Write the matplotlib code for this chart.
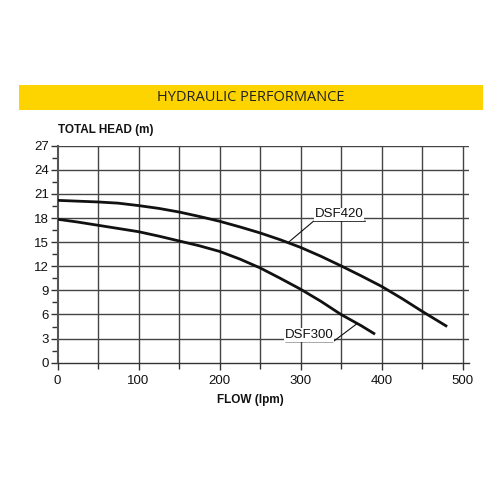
import matplotlib
matplotlib.use("Agg")
import matplotlib.pyplot as plt
import numpy as np
from matplotlib.patches import Rectangle

# Data
flow_420 = [0, 25, 50, 75, 100, 125, 150, 175, 200, 225, 250, 275, 300, 325, 350, 375, 400, 425, 450, 481]
head_420 = [20.2, 20.1, 20.0, 19.85, 19.55, 19.2, 18.75, 18.2, 17.6, 16.9, 16.15, 15.3, 14.35, 13.25,
            12.05, 10.8, 9.5, 8.0, 6.4, 4.5]
flow_300 = [0, 25, 50, 75, 100, 125, 150, 175, 200, 225, 250, 275, 300, 325, 350, 375, 392]
head_300 = [17.85, 17.5, 17.1, 16.7, 16.3, 15.75, 15.15, 14.55, 13.85, 12.9, 11.8, 10.5, 9.15, 7.65,
            6.0, 4.6, 3.55]

x_ticks = [0, 100, 200, 300, 400, 500]
y_ticks = [0, 3, 6, 9, 12, 15, 18, 21, 24, 27]

title = "HYDRAULIC PERFORMANCE"
y_label = "TOTAL HEAD (m)"
x_label = "FLOW (lpm)"

fig = plt.figure(figsize=(5, 5), dpi=100)
fig.patch.set_facecolor("white")

# Yellow banner
fig.patches.append(Rectangle((0.038, 0.780), 0.928, 0.050, transform=fig.transFigure,
                             facecolor="#FDD300", edgecolor="none", zorder=0))
fig.text(0.502, 0.805, title, ha="center", va="center", fontsize=10.5,
         family="Open Sans", color="#222222")

ax = fig.add_axes([0.115, 0.2746, 0.823, 0.434])
ax.set_xlim(0, 508)
ax.set_ylim(0, 27)

# grid
for xv in np.arange(50, 501, 50):
    ax.plot([xv, xv], [0, 27], color="#444444", lw=1.0, zorder=1, solid_capstyle="butt")
for yv in y_ticks[1:]:
    ax.plot([0, 508], [yv, yv], color="#444444", lw=1.0, zorder=1, solid_capstyle="butt")

ax.plot(flow_420, head_420, color="#111111", lw=2.0, zorder=3,
        solid_joinstyle="round", solid_capstyle="butt")
ax.plot(flow_300, head_300, color="#111111", lw=2.0, zorder=3,
        solid_joinstyle="round", solid_capstyle="butt")

# labels with leader lines
ax.plot([380, 316, 285], [17.6, 17.6, 14.97], color="#111111", lw=0.8, zorder=4)
ax.text(348, 17.7, "DSF420", ha="center", va="bottom", fontsize=9.5,
        family="Liberation Sans", color="#111111", zorder=5,
        bbox=dict(facecolor="white", edgecolor="none", pad=0.5))
ax.plot([282, 340, 369], [2.6, 2.6, 4.8], color="#111111", lw=0.8, zorder=4)
ax.text(311, 2.7, "DSF300", ha="center", va="bottom", fontsize=9.5,
        family="Liberation Sans", color="#111111", zorder=5,
        bbox=dict(facecolor="white", edgecolor="none", pad=0.5))

for s in ["top", "right"]:
    ax.spines[s].set_visible(False)
ax.spines["left"].set_color("#555555")
ax.spines["left"].set_linewidth(1.5)
ax.spines["bottom"].set_color("#333333")
ax.spines["bottom"].set_linewidth(1.0)

ax.set_xticks(x_ticks)
ax.set_xticks(np.arange(50, 501, 100), minor=True)
ax.set_yticks(y_ticks)
ax.set_yticks(np.arange(1.5, 27, 3), minor=True)
ax.tick_params(axis="both", which="major", length=5, width=1, color="#333333",
               labelsize=9.5, labelcolor="#111111")
ax.tick_params(axis="both", which="minor", length=4, width=1, color="#333333")
for lab in ax.get_xticklabels() + ax.get_yticklabels():
    lab.set_family("Liberation Sans")
ax.tick_params(axis="y", pad=1)

fig.text(0.117, 0.739, y_label, ha="left", va="center", fontsize=8.5,
         family="Liberation Sans", weight="bold", color="#111111")
fig.text(0.50, 0.201, x_label, ha="center", va="center", fontsize=8.5,
         family="Liberation Sans", weight="bold", color="#111111")

fig.savefig("out.png", dpi=100, facecolor="white")
